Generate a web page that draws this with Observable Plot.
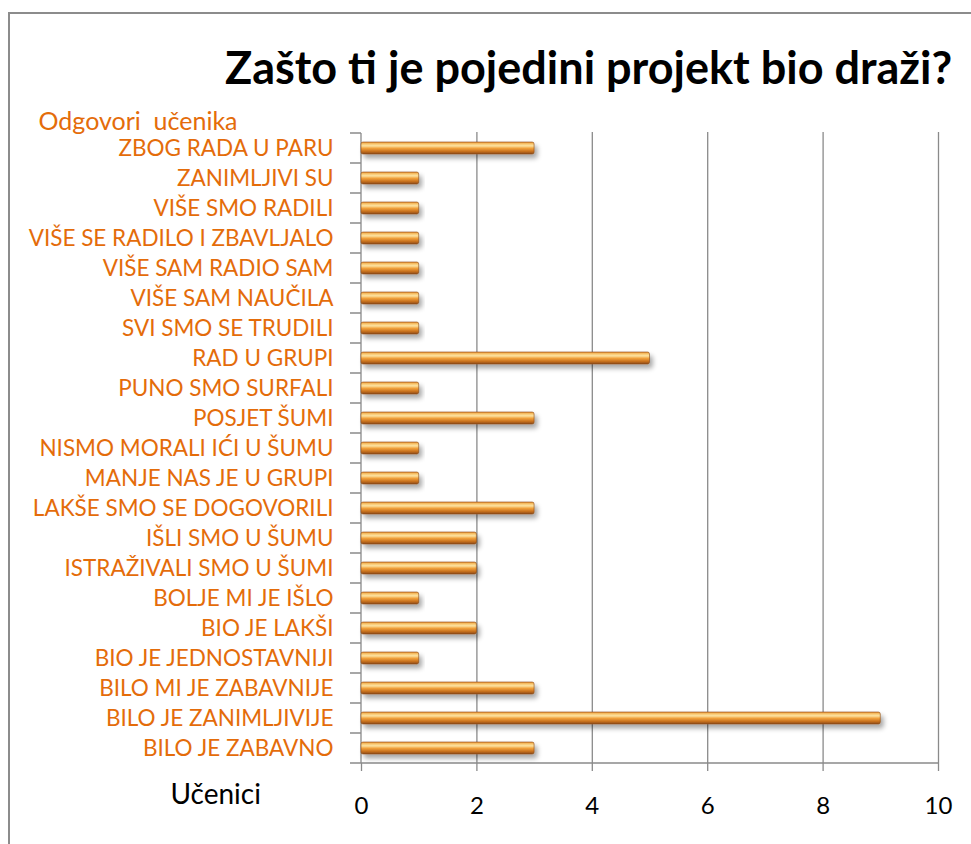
<!DOCTYPE html>
<html>
<head>
<meta charset="utf-8">
<script src="https://cdn.jsdelivr.net/npm/d3@7"></script>
<script src="https://cdn.jsdelivr.net/npm/@observablehq/plot@0.6"></script>
<style>
  html, body { margin: 0; padding: 0; background: #fff; }
  #wrap { position: relative; width: 971px; height: 844px; overflow: hidden; background: #fff; }
  #frame { position: absolute; left: 8px; top: 12px; width: 980px; height: 850px; border: 2px solid #8c8c8c; box-sizing: border-box; }
  #title { position: relative; height: 110px; box-sizing: border-box; padding-top: 40px; padding-left: 225px;
           font-family: Lato, "Open Sans", sans-serif; font-weight: 700; font-size: 45px; color: #000; white-space: nowrap; line-height: 54px; }
  #chart { position: relative; }
</style>
</head>
<body>
<div id="wrap">
  <div id="frame"></div>
  <div id="title">Zašto ti je pojedini projekt bio draži?</div>
  <div id="chart"></div>
</div>
<script>
const categories = [
  "ZBOG RADA U PARU",
  "ZANIMLJIVI SU",
  "VIŠE SMO RADILI",
  "VIŠE SE RADILO I ZBAVLJALO",
  "VIŠE SAM RADIO SAM",
  "VIŠE SAM NAUČILA",
  "SVI SMO SE TRUDILI",
  "RAD U GRUPI",
  "PUNO SMO SURFALI",
  "POSJET ŠUMI",
  "NISMO MORALI IĆI U ŠUMU",
  "MANJE NAS JE U GRUPI",
  "LAKŠE SMO SE DOGOVORILI",
  "IŠLI SMO U ŠUMU",
  "ISTRAŽIVALI SMO U ŠUMI",
  "BOLJE MI JE IŠLO",
  "BIO JE LAKŠI",
  "BIO JE JEDNOSTAVNIJI",
  "BILO MI JE ZABAVNIJE",
  "BILO JE ZANIMLJIVIJE",
  "BILO JE ZABAVNO"
];
const values = [3, 1, 1, 1, 1, 1, 1, 5, 1, 3, 1, 1, 3, 2, 2, 1, 2, 1, 3, 9, 3];
const xTicks = [0, 2, 4, 6, 8, 10];
const yAxisTitle = "Odgovori  učenika";
const xAxisTitle = "Učenici";

const data = categories.map((c, i) => ({category: c, value: values[i]}));

const ORANGE = "#E46C0A";
const GRID = "#8a8a8a";
const FONT = "Lato, 'Open Sans', sans-serif";

function defs() {
  const svgns = "http://www.w3.org/2000/svg";
  const d = document.createElementNS(svgns, "defs");
  d.innerHTML = `
    <linearGradient id="barGrad" x1="0" y1="0" x2="0" y2="1">
      <stop offset="0" stop-color="#E48A2A"/>
      <stop offset="0.15" stop-color="#F9C56C"/>
      <stop offset="0.32" stop-color="#FCE3A2"/>
      <stop offset="0.52" stop-color="#F2A23C"/>
      <stop offset="0.78" stop-color="#C8711E"/>
      <stop offset="1" stop-color="#8C4A16"/>
    </linearGradient>
    <filter id="barShadow" x="-5%" y="-50%" width="115%" height="250%">
      <feGaussianBlur in="SourceAlpha" stdDeviation="2.5"/>
      <feOffset dx="3" dy="4" result="ob"/>
      <feComponentTransfer><feFuncA type="linear" slope="0.35"/></feComponentTransfer>
      <feMerge><feMergeNode/><feMergeNode in="SourceGraphic"/></feMerge>
    </filter>`;
  return d;
}

// Excel-style tick marks at band boundaries, vertical axis line and bottom baseline
function bandTicks(index, scales) {
  const svgns = "http://www.w3.org/2000/svg";
  const y = scales.y, x = scales.x;
  const x0 = x(0), x1 = x(10);
  const step = y.step();
  const start = y(categories[0]);
  const end = start + step * categories.length;
  let dpath = `M${x0},${start}V${end}M${x0},${end}H${x1}`;
  for (let i = 0; i <= categories.length; i++) {
    const yy = start + step * i;
    dpath += `M${x0 - 11},${yy}H${x0}`;
  }
  const p = document.createElementNS(svgns, "path");
  p.setAttribute("d", dpath);
  p.setAttribute("stroke", GRID);
  p.setAttribute("stroke-width", "1.3");
  p.setAttribute("fill", "none");
  return p;
}

const W = 971, H = 734;
const chart = Plot.plot({
  width: W,
  height: H,
  marginLeft: 361,
  marginRight: 33,
  marginTop: 22,
  marginBottom: 81,
  style: {fontFamily: FONT, background: "transparent", overflow: "visible"},
  x: {domain: [0, 10], ticks: xTicks},
  y: {domain: categories, padding: 0},
  marks: [
    defs,
    Plot.gridX(xTicks.filter(t => t > 0), {stroke: GRID, strokeOpacity: 1, strokeWidth: 1.3}),
    Plot.axisX({ticks: xTicks, tickSize: 8, tickPadding: 25, stroke: GRID, strokeWidth: 1.3, fontSize: 24, color: "#000", label: null}),
    Plot.axisY({tickSize: 0, tickPadding: 28, fontSize: 22.5, fill: ORANGE, label: null}),
    bandTicks,
    Plot.barX(data, {
      x: "value", y: "category", fill: "url(#barGrad)",
      insetTop: 9, insetBottom: 9, rx: 2,
      stroke: "#8a4a14", strokeWidth: 0.6
    }),
    Plot.text([yAxisTitle], {frameAnchor: "top-left", dx: -323, dy: -20, textAnchor: "start", fontSize: 25, fill: ORANGE}),
    Plot.text([xAxisTitle], {frameAnchor: "bottom-left", dx: -191, dy: 40, textAnchor: "start", fontSize: 28, fill: "#000"})
  ]
});
document.getElementById("chart").appendChild(chart);
chart.querySelectorAll("rect").forEach(r => {
  if (r.getAttribute("fill") === "url(#barGrad)" || (r.parentNode && r.parentNode.getAttribute("fill") === "url(#barGrad)")) r.setAttribute("filter", "url(#barShadow)");
});
</script>
</body>
</html>
